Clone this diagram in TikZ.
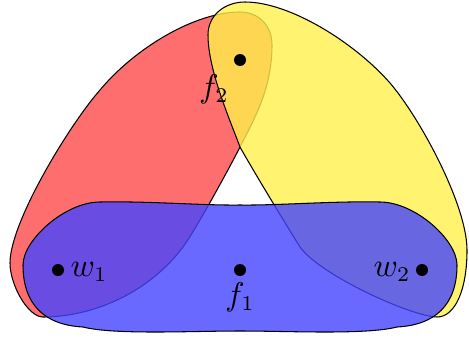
\documentclass[tikz,border=0pt]{standalone}
\definecolor{cRed}{RGB}{255,74,74}
\definecolor{cYel}{RGB}{255,240,76}
\definecolor{cBlu}{RGB}{68,68,255}
\begin{document}
\begin{tikzpicture}[x=0.3333pt,y=-0.3333pt,
  blob/.style={draw=black, line width=0.35pt, fill opacity=0.8},
  dot/.style={circle, fill=black, inner sep=0pt, minimum size=4pt},
  lbl/.style={inner sep=0pt, font=\fontsize{10.5pt}{12pt}\selectfont}]
\useasboundingbox (0,0) rectangle (469,341);
% red
\filldraw[blob, fill=cRed]
  (240,12) .. controls (258,12) and (272,25) .. (272,45)
  .. controls (272,90) and (253,121) .. (240,147)
  .. controls (231,165) and (195,231) .. (183,247)
  .. controls (147,295) and (90,317) .. (43,317)
  .. controls (28,317) and (10,285) .. (10,263)
  .. controls (10,222) and (70,124) .. (100,90)
  .. controls (135,48) and (195,12) .. cycle;
% yellow
\filldraw[blob, fill=cYel]
  (245,2) .. controls (290,2) and (355,43) .. (390,83)
  .. controls (420,118) and (467,205) .. (467,250)
  .. controls (467,290) and (455,317) .. (437,317)
  .. controls (410,316) and (320,275) .. (300,247)
  .. controls (285,223) and (254,172) .. (240,147)
  .. controls (230,120) and (208,70) .. (208,35)
  .. controls (208,15) and (225,2) .. cycle;
% blue
\filldraw[blob, fill=cBlu]
  (23,265) .. controls (23,240) and (65,202) .. (100,202)
  .. controls (150,201) and (200,205.5) .. (240,205)
  .. controls (280,205.5) and (330,201) .. (380,202)
  .. controls (415,202) and (457,240) .. (457,265)
  .. controls (457,305) and (435,325) .. (397,327)
  .. controls (365,335) and (290,331) .. (240,331)
  .. controls (190,331) and (115,335) .. (83,327)
  .. controls (45,325) and (23,305) .. cycle;
\node[dot] (f2) at (240,60) {};
\node[dot] (w1) at (58,270) {};
\node[dot] (f1) at (240,270) {};
\node[dot] (w2) at (422,270) {};
\node[lbl] (lf2) at (214,89) {$f_2$};
\node[lbl] (lw1) at (89,272) {$w_1$};
\node[lbl] (lf1) at (240,297) {$f_1$};
\node[lbl] (lw2) at (392,272) {$w_2$};
\end{tikzpicture}
\end{document}
